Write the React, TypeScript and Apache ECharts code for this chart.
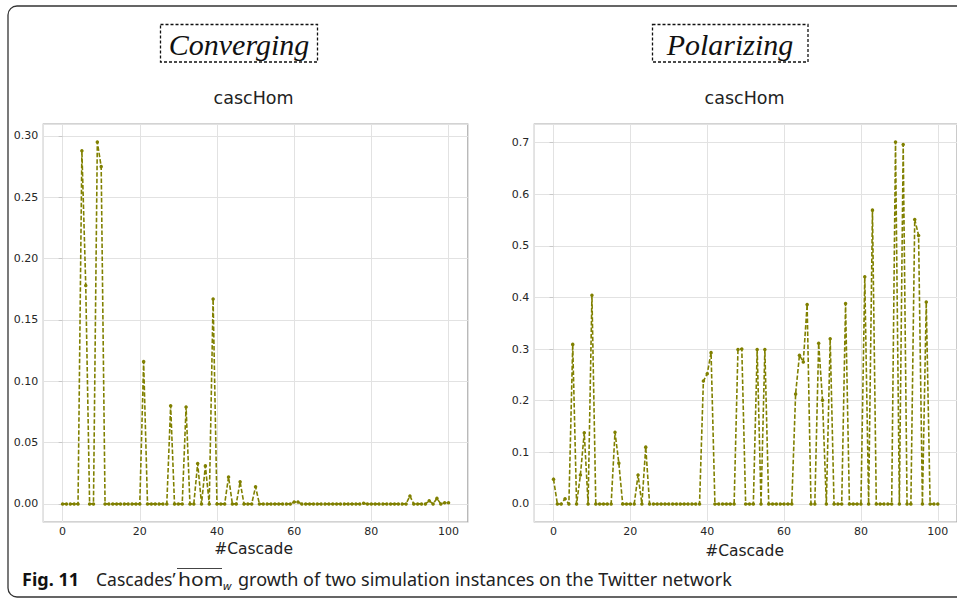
import React, { useEffect, useRef } from "react";
import * as echarts from "echarts";

const cascadeIds: number[] = Array.from({ length: 101 }, (_, i) => i);

const convergingValues: number[] = [
  0, 0, 0, 0, 0, 0.288, 0.178, 0, 0, 0.295,
  0.275, 0, 0, 0, 0, 0, 0, 0, 0, 0,
  0, 0.116, 0, 0, 0, 0, 0, 0, 0.08, 0,
  0, 0, 0.079, 0, 0, 0.033, 0, 0.031, 0, 0.167,
  0, 0, 0, 0.022, 0, 0, 0.018, 0, 0, 0,
  0.014, 0, 0, 0, 0, 0, 0, 0, 0, 0,
  0.0015, 0.0015, 0, 0, 0, 0, 0, 0, 0, 0,
  0, 0, 0, 0, 0, 0, 0, 0, 0.0005, 0,
  0, 0, 0, 0, 0, 0, 0, 0, 0, 0,
  0.0065, 0, 0, 0, 0, 0.0025, 0, 0.0045, 0, 0.001,
  0.001,
];

const polarizingValues: number[] = [
  0.048, 0, 0, 0.01, 0, 0.309, 0, 0.056, 0.138, 0,
  0.404, 0, 0, 0, 0, 0, 0.139, 0.079, 0, 0,
  0, 0, 0.056, 0, 0.11, 0, 0, 0, 0, 0,
  0, 0, 0, 0, 0, 0, 0, 0, 0, 0.238,
  0.252, 0.293, 0, 0, 0, 0, 0, 0, 0.299, 0.3,
  0, 0, 0, 0.299, 0, 0.299, 0, 0, 0, 0,
  0, 0, 0, 0.213, 0.288, 0.275, 0.386, 0, 0, 0.311,
  0.201, 0, 0.32, 0, 0, 0, 0.388, 0, 0, 0,
  0, 0.44, 0, 0.569, 0, 0, 0, 0, 0, 0.701,
  0, 0.696, 0, 0, 0.551, 0.52, 0, 0.391, 0, 0,
  0,
];

const xTicks: number[] = [0, 20, 40, 60, 80, 100];
const panelHeadings: string[] = ["Converging", "Polarizing"];
const panelTitle = "cascHom";
const xAxisName = "#Cascade";
const captionBold = "Fig. 11";

const OLIVE = "#808000";
const TICK_FONT = "DejaVu Sans";

export default function App() {
  const ref = useRef<HTMLDivElement>(null);

  useEffect(() => {
    if (!ref.current) return;
    const chart = echarts.init(ref.current, null, { renderer: "svg" });

    const makeX = (gi: number) => ({
      type: "value" as const,
      gridIndex: gi,
      min: -5,
      max: 105,
      minInterval: 20,
      maxInterval: 20,
      axisLine: { show: false },
      axisTick: { show: false },
      axisLabel: {
        showMinLabel: false,
        showMaxLabel: false,
        margin: 4,
        color: "#262626",
        fontFamily: TICK_FONT,
        fontSize: 11,
        formatter: (v: number) => (xTicks.includes(Math.round(v)) ? String(Math.round(v)) : ""),
      },
      splitLine: { show: true, lineStyle: { color: "#e2e2e2", width: 1 } },
    });

    const makeY = (gi: number, min: number, max: number, step: number, digits: number) => ({
      type: "value" as const,
      gridIndex: gi,
      min,
      max,
      minInterval: step,
      maxInterval: step,
      axisLine: { show: false },
      axisTick: { show: true, length: 4, lineStyle: { color: "#c8c8c8" } },
      axisLabel: {
        showMinLabel: false,
        showMaxLabel: false,
        margin: 5,
        color: "#262626",
        fontFamily: TICK_FONT,
        fontSize: 11,
        formatter: (v: number) => Math.abs(v).toFixed(digits),
      },
      splitLine: { show: true, lineStyle: { color: "#e2e2e2", width: 1 } },
    });

    const seriesStyle = {
      type: "line" as const,
      symbol: "circle",
      symbolSize: 3.5,
      showSymbol: true,
      lineStyle: { color: OLIVE, width: 1.6, type: [4.5, 2] as number[] },
      itemStyle: { color: OLIVE },
      silent: true,
    };

    const leftCenter = 43.3 + 424.5 / 2;
    const rightCenter = 534.3 + 424.5 / 2;
    const capY = 579;

    chart.setOption({
      animation: false,
      backgroundColor: "#ffffff",
      grid: [
        { left: 43.3, top: 124, width: 424.5, height: 398, show: true, borderColor: "#a8a8a8", borderWidth: 1.2, backgroundColor: "transparent" },
        { left: 534.3, top: 124, width: 424.5, height: 398, show: true, borderColor: "#a8a8a8", borderWidth: 1.2, backgroundColor: "transparent" },
      ],
      xAxis: [makeX(0), makeX(1)],
      yAxis: [
        makeY(0, -0.01475, 0.30975, 0.05, 2),
        makeY(1, -0.035, 0.7358, 0.1, 1),
      ],
      series: [
        { ...seriesStyle, xAxisIndex: 0, yAxisIndex: 0, data: cascadeIds.map((c, i) => [c, convergingValues[i]]) },
        { ...seriesStyle, xAxisIndex: 1, yAxisIndex: 1, data: cascadeIds.map((c, i) => [c, polarizingValues[i]]) },
      ],
      graphic: [
        {
          type: "rect",
          shape: { x: 8, y: 6, width: 965, height: 591, r: 9 },
          style: { fill: "none", stroke: "#333333", lineWidth: 1.3 },
          silent: true,
        },
        {
          type: "rect",
          shape: { x: 160.5, y: 24.5, width: 157, height: 37.5 },
          style: { fill: "none", stroke: "#111111", lineWidth: 1.3, lineDash: [3, 2] },
        },
        {
          type: "rect",
          shape: { x: 652.5, y: 24.5, width: 155.5, height: 37.5 },
          style: { fill: "none", stroke: "#111111", lineWidth: 1.3, lineDash: [3, 2] },
        },
        {
          type: "text",
          x: 239,
          y: 44,
          style: {
            text: panelHeadings[0],
            font: 'italic 30px "Liberation Serif"',
            fill: "#111111",
            align: "center",
            verticalAlign: "middle",
          },
        },
        {
          type: "text",
          x: 730,
          y: 44,
          style: {
            text: panelHeadings[1],
            font: 'italic 30px "Liberation Serif"',
            fill: "#111111",
            align: "center",
            verticalAlign: "middle",
          },
        },
        {
          type: "text",
          x: leftCenter - 2,
          y: 98,
          style: { text: panelTitle, font: '17.5px "DejaVu Sans"', fill: "#222222", align: "center", verticalAlign: "middle" },
        },
        {
          type: "text",
          x: rightCenter - 2,
          y: 98,
          style: { text: panelTitle, font: '17.5px "DejaVu Sans"', fill: "#222222", align: "center", verticalAlign: "middle" },
        },
        {
          type: "text",
          x: leftCenter - 2,
          y: 549,
          style: { text: xAxisName, font: '15.5px "DejaVu Sans"', fill: "#222222", align: "center", verticalAlign: "middle" },
        },
        {
          type: "text",
          x: rightCenter - 2,
          y: 551,
          style: { text: xAxisName, font: '15.5px "DejaVu Sans"', fill: "#222222", align: "center", verticalAlign: "middle" },
        },
        {
          type: "text",
          x: 22,
          y: capY,
          style: { text: captionBold, font: 'bold 18px "Noto Sans"', fill: "#111111", verticalAlign: "middle" },
        },
        {
          type: "text",
          x: 96,
          y: capY,
          style: { text: "Cascades\u2019", font: '17.5px "Noto Sans"', fill: "#222222", verticalAlign: "middle" },
        },
        {
          type: "text",
          x: 178,
          y: capY,
          scaleX: 1.2,
          style: { text: "hom", font: '17.5px "Noto Sans"', fill: "#222222", verticalAlign: "middle" },
        },
        {
          type: "line",
          shape: { x1: 177, y1: 568.5, x2: 222, y2: 568.5 },
          style: { stroke: "#444444", lineWidth: 1.2 },
        },
        {
          type: "text",
          x: 223,
          y: capY + 6,
          style: { text: "w", font: 'italic 11.5px "Noto Sans"', fill: "#222222", verticalAlign: "middle" },
        },
        {
          type: "text",
          x: 238,
          y: capY,
          style: {
            text: "growth of two simulation instances on the Twitter network",
            font: '18px "Noto Sans"',
            fill: "#222222",
            verticalAlign: "middle",
          },
        },
      ],
    });

    return () => chart.dispose();
  }, []);

  return (
    <div
      ref={ref}
      style={{ position: "absolute", left: 0, top: 0, width: 957, height: 602 }}
    />
  );
}
